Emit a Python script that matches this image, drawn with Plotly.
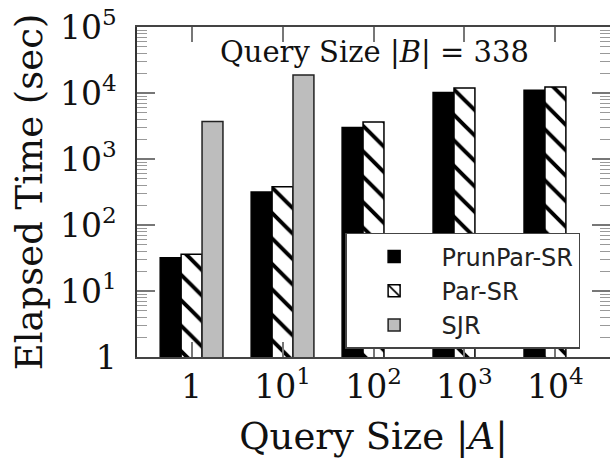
import plotly.graph_objects as go

categories = ["1", "10<sup>1</sup>", "10<sup>2</sup>", "10<sup>3</sup>", "10<sup>4</sup>"]
prunpar_sr = [32, 316, 3000, 10200, 11000]
par_sr = [36, 380, 3650, 11900, 12300]
sjr = [3700, 18800, None, None, None]

y_tickvals = [1, 10, 100, 1000, 10000, 100000]
y_ticktext = ["1", "10<sup>1</sup>", "10<sup>2</sup>", "10<sup>3</sup>", "10<sup>4</sup>", "10<sup>5</sup>"]
y_minor_tickvals = [m * 10 ** e for e in range(5) for m in range(2, 10)]

serif = "DejaVu Serif"

fig = go.Figure()
fig.add_trace(go.Bar(
    x=categories, y=prunpar_sr, name="PrunPar-SR",
    marker=dict(color="black", line=dict(color="black", width=1.5)),
))
fig.add_trace(go.Bar(
    x=categories, y=par_sr, name="Par-SR",
    marker=dict(color="white", line=dict(color="black", width=1.5),
                pattern=dict(shape="\\", fgcolor="black", bgcolor="white",
                             size=18, solidity=0.22, fgopacity=1)),
))
fig.add_trace(go.Bar(
    x=categories, y=sjr, name="SJR",
    marker=dict(color="#bdbdbd", line=dict(color="#222222", width=1.5)),
))

fig.update_layout(
    width=610, height=458,
    margin=dict(l=137, r=0, t=27, b=101, autoexpand=False),
    paper_bgcolor="white", plot_bgcolor="white",
    barmode="group", bargap=0.31, bargroupgap=0,
    showlegend=True,
    legend=dict(
        x=0.44, y=0.376, xanchor="left", yanchor="top",
        bgcolor="white", bordercolor="#444444", borderwidth=1.5,
        font=dict(family="DejaVu Sans", size=24, color="#222222"),
        itemwidth=85, tracegroupgap=0,
    ),
    font=dict(family=serif, color="#111111"),
)

fig.update_xaxes(
    range=[-0.6, 4.6], automargin=False,
    showline=True, linecolor="#444444", linewidth=1.5, mirror="ticks",
    ticks="inside", ticklen=15, tickcolor="#777777", tickwidth=1.5,
    tickfont=dict(family=serif, size=33, color="#111111"),
    showgrid=False,
    title=dict(text="Query Size |<i>A</i>|", font=dict(family=serif, size=37, color="#111111"), standoff=25),
)
fig.update_yaxes(
    type="log", range=[0, 5], automargin=False,
    tickvals=y_tickvals, ticktext=y_ticktext,
    showline=True, linecolor="#333333", linewidth=1.5, mirror="ticks",
    ticks="inside", ticklen=18, tickcolor="#777777", tickwidth=1.5,
    minor=dict(tickmode="array", tickvals=y_minor_tickvals, ticks="inside",
               ticklen=10, tickcolor="#999999", tickwidth=1.2, showgrid=False),
    tickfont=dict(family=serif, size=33, color="#111111"),
    ticklabelstandoff=12,
    showgrid=False,
    title=dict(text="Elapsed Time (sec)", font=dict(family=serif, size=37, color="#111111"), standoff=6),
)

fig.add_annotation(
    text="Query Size |<i>B</i>| = 338",
    xref="paper", yref="paper", x=0.503, y=0.925,
    xanchor="center", yanchor="middle", showarrow=False,
    font=dict(family=serif, size=29, color="#111111"),
)

fig.write_html("out.html", config={"displayModeBar": False},
               post_script="document.body.style.margin='0';")
